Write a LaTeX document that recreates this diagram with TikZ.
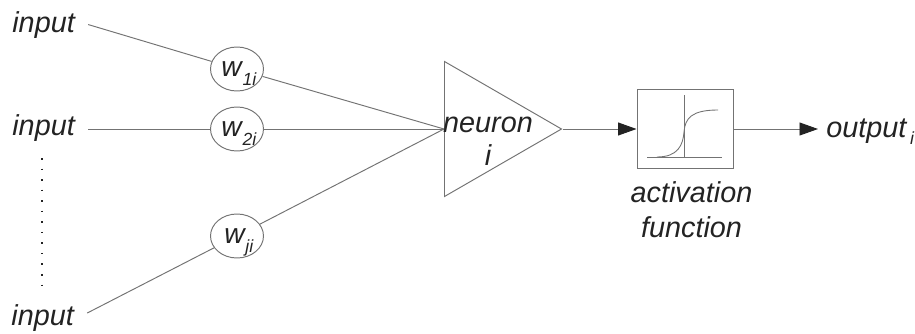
\documentclass[tikz,border=0pt]{standalone}
\usepackage{fontspec}
\setmainfont{Liberation Sans}
\usepackage{xcolor}
\usepackage{tikz}
\usetikzlibrary{shapes.geometric, arrows.meta, positioning}
\definecolor{mygray}{RGB}{115,115,115}
\definecolor{mydark}{RGB}{35,35,35}
\newcommand{\wlabel}[1]{\makebox[0pt][c]{\hspace{2pt}w\hspace{0.5pt}\smash{\raisebox{-5pt}{\fontsize{10}{10}\selectfont #1}}}}
\tikzset{
  lbl/.style={font=\fontsize{16.4}{18.7}\selectfont\itshape, text=mydark, align=center},
  inputlbl/.style={lbl, anchor=base west, inner ysep=0pt, inner xsep=0.26cm},
  weight/.style={ellipse, draw=mygray, line width=0.55pt, minimum width=1.06cm,
    minimum height=0.88cm, inner sep=0pt, font=\fontsize{16}{16}\selectfont\itshape, text=mydark},
  neuronshape/.style={isosceles triangle, isosceles triangle stretches, draw=mygray,
    line width=0.55pt, minimum width=2.7cm, minimum height=2.34cm, inner sep=0pt,
    anchor=lower side},
  funcbox/.style={rectangle, draw=mygray, line width=0.55pt, minimum width=1.92cm,
    minimum height=1.58cm},
  line/.style={color=mygray, line width=0.55pt},
  arrow/.style={line, -{Triangle[length=0.37cm, width=0.26cm, color=mydark]}},
  thin line/.style={color=mygray, line width=0.5pt}
}
\begin{document}
\begin{tikzpicture}
  \useasboundingbox (0,0) rectangle (18.3,6.66);

  \node[inputlbl] (in1) at (-0.02,6.02) {input};
  \node[inputlbl] (in2) at (-0.02,3.96) {input};
  \node[inputlbl] (in3) at (-0.04,0.16) {input};

  \node[weight] (w1) at (4.74,5.28) {\wlabel{1i}};
  \node[weight] (w2) at (4.74,4.08) {\wlabel{2i}};
  \node[weight] (w3) at (4.74,1.94) {\wlabel{ji}};

  \node[neuronshape] (neuron) at (8.88,4.08) {};
  \node[lbl] (neuronlbl) at (9.76,3.84) {neuron\\i};

  \node[funcbox] (func) at (13.7,4.08) {};
  \node[lbl, font=\fontsize{16.4}{19.8}\selectfont\itshape] (funclbl) at (13.83,2.46) {activation\\function};
  \node[lbl, anchor=base west, inner sep=0pt, inner xsep=0.16cm] (out) at (16.36,3.92)
    {output\hspace{2pt}\raisebox{-4.5pt}{\fontsize{10}{10}\selectfont i}};

  \draw[line] (in1.east) -- (w1);
  \draw[line] (in2.east |- w2) -- (w2);
  \draw[line] ([yshift=0.09cm]in3.east) -- (w3);
  \draw[line] (w1) -- (neuron.lower side);
  \draw[line] (w2) -- (neuron.lower side);
  \draw[line] (w3) -- (neuron.lower side);
  \draw[arrow] (neuron.apex) -- (func.west);
  \draw[arrow] (func.east) -- (func.east -| out.west);

  \coordinate (dotstart) at (0.84,3.5);
  \coordinate (dotend) at (0.84,0.88);
  \draw[color=mydark, line width=0.7pt, dash pattern=on 0.9pt off 5.1pt] (dotstart) -- (dotend);

  % sigmoid inside the box
  \draw[thin line] (12.94,3.52) -- (14.44,3.52);
  \draw[thin line] (13.68,4.76) -- (13.68,3.52);
  \draw[thin line] (13.14,3.52) .. controls (13.56,3.52) and (13.66,3.76) .. (13.68,4.02)
    .. controls (13.70,4.30) and (13.84,4.46) .. (14.36,4.46);
\end{tikzpicture}
\end{document}
